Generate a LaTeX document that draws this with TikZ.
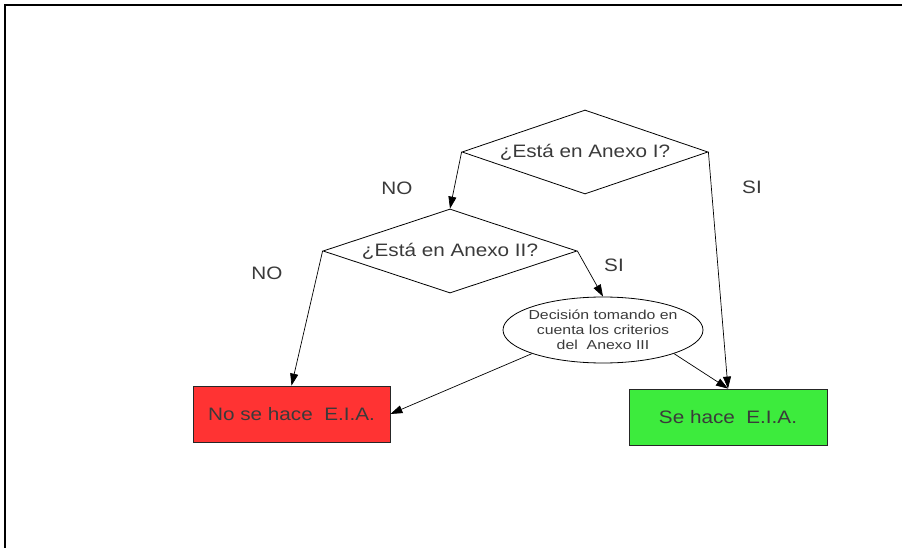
\documentclass[tikz,border=0pt]{standalone}
\usepackage{fontspec}
\setmainfont{Liberation Sans}
\newfontfamily\boxfont[FakeStretch=1.15]{Liberation Sans}
\newfontfamily\smallfont[FakeStretch=1.22]{Liberation Sans}
\usetikzlibrary{shapes.geometric,arrows.meta}

\definecolor{txt}{HTML}{3A3A3A}
\definecolor{redfill}{HTML}{FF3333}
\definecolor{greenfill}{HTML}{3DEB3D}

\begin{document}
\begin{tikzpicture}[x=1pt,y=-1pt,
  bigtext/.style={font=\boxfont\fontsize{18}{20}\selectfont, text=txt},
  question/.style={diamond, draw=black, line width=0.8pt, inner sep=0pt,
    minimum width=#1, minimum height=84pt, shape aspect=3, bigtext},
  outcome/.style={rectangle, draw=black!85, line width=0.8pt,
    minimum width=198pt, minimum height=56pt, inner sep=0pt, bigtext},
  criteria/.style={ellipse, draw=black, line width=0.8pt,
    inner xsep=-7pt, inner ysep=0pt,
    minimum width=200pt, minimum height=66pt, align=center,
    font=\smallfont\fontsize{13}{15}\selectfont, text=txt},
  flow/.style={-{Triangle[length=12pt,width=8pt]}, line width=0.7pt},
  answer/.style={bigtext, inner sep=0pt}]

  \useasboundingbox (0,0) rectangle (902,548);

  % outer frame
  \draw[line width=2pt] (5.3,548) -- (5.3,5.3) -- (902,5.3);

  % decisions
  \node[question=246pt] (annex1) at (585,152) {¿Está en Anexo I?};
  \node[question=254pt] (annex2) at (450,251) {¿Está en Anexo II?};
  \node[criteria] (annex3) at (603,330)
    {Decisión tomando en\\cuenta los criterios\\del\ \ Anexo III};

  % results
  \node[outcome, fill=redfill, minimum width=197pt] (noeia) at (291.5,414) {No se hace\ \ E.I.A.};
  \node[outcome, fill=greenfill] (eia) at (728,417) {Se hace\ \ E.I.A.};

  % connectors
  \draw[flow] (annex1.west) -- (annex2.north);
  \draw[flow] (annex1.east) -- (eia.north);
  \draw[flow] (annex2.west) -- (noeia.north);
  \draw[flow] (annex2.east) -- (annex3.north);
  \draw[flow] (annex3.south west) -- (noeia.east);
  \draw[flow] (annex3.south east) -- (eia.north);

  % branch labels
  \node[answer] (no1) at (397,188) {NO};
  \node[answer] (si1) at (752,187) {SI};
  \node[answer] (no2) at (267,273) {NO};
  \node[answer] (si2) at (614,265) {SI};
\end{tikzpicture}
\end{document}
